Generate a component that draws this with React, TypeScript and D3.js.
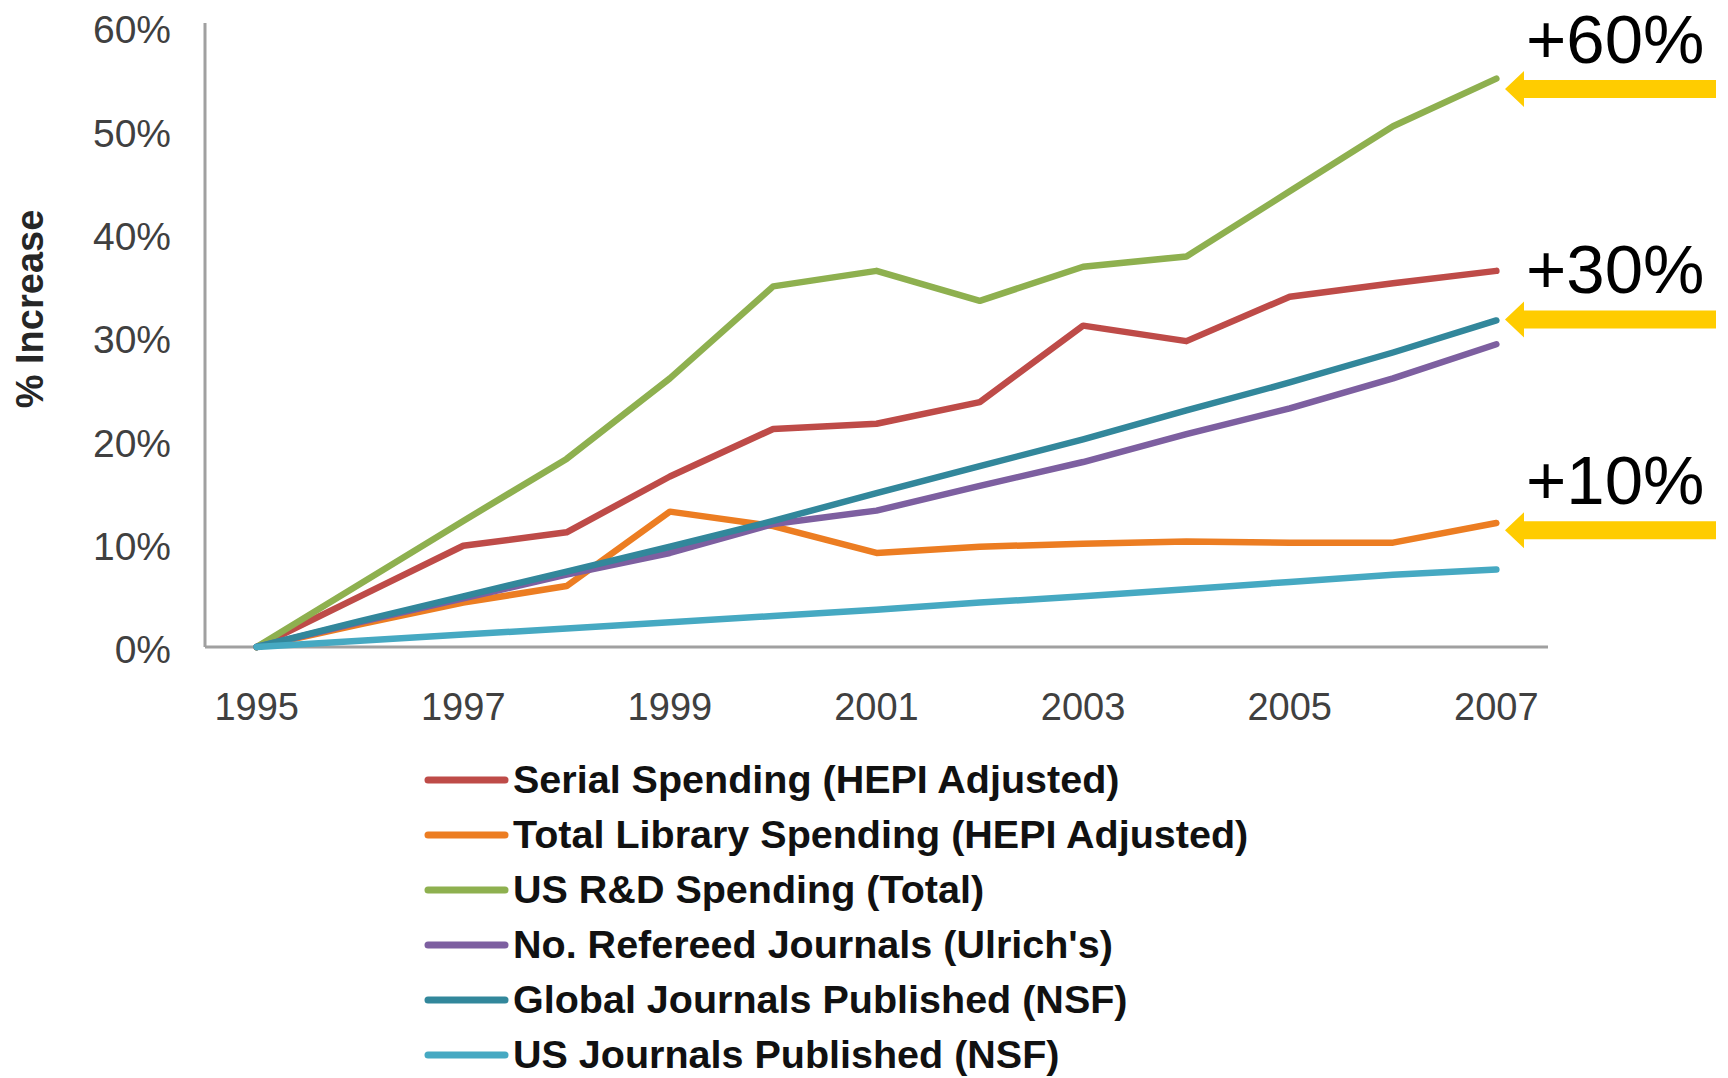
import * as d3 from 'd3'
import { FC, useMemo } from 'react'



const WIDTH = 1728
const HEIGHT = 1078
const PLOT = { left: 205, right: 1548, top: 27, bottom: 647 }
const FONT = '"Liberation Sans", Arial, Helvetica, sans-serif'



// Data (percent increase since 1995)
const YEARS = [1995, 1996, 1997, 1998, 1999, 2000, 2001, 2002, 2003, 2004, 2005, 2006, 2007]
const X_TICKS = [1995, 1997, 1999, 2001, 2003, 2005, 2007]
const Y_TICKS = [0, 10, 20, 30, 40, 50, 60]

const SERIAL_SPENDING = [0, 4.9, 9.8, 11.1, 16.5, 21.1, 21.6, 23.7, 31.1, 29.6, 33.9, 35.2, 36.4]
const TOTAL_LIBRARY = [0, 2.2, 4.3, 5.9, 13.1, 11.7, 9.1, 9.7, 10.0, 10.2, 10.1, 10.1, 12.0]
const US_RD = [0, 6.1, 12.2, 18.2, 26.0, 34.9, 36.4, 33.5, 36.8, 37.8, 44.1, 50.4, 55.0]
const REFEREED = [0, 2.4, 4.7, 7.0, 9.1, 11.9, 13.2, 15.6, 17.9, 20.6, 23.1, 26.0, 29.3]
const GLOBAL_JOURNALS = [0, 2.5, 4.9, 7.3, 9.7, 12.2, 14.9, 17.5, 20.1, 22.9, 25.6, 28.5, 31.6]
const US_JOURNALS = [0, 0.6, 1.2, 1.8, 2.4, 3.0, 3.6, 4.3, 4.9, 5.6, 6.3, 7.0, 7.5]

const SERIES_NAMES = [
  'Serial Spending (HEPI Adjusted)',
  'Total Library Spending (HEPI Adjusted)',
  'US R&D Spending (Total)',
  "No. Refereed Journals (Ulrich's)",
  'Global Journals Published (NSF)',
  'US Journals Published (NSF)',
]
const SERIES_VALUES = [SERIAL_SPENDING, TOTAL_LIBRARY, US_RD, REFEREED, GLOBAL_JOURNALS, US_JOURNALS]
const SERIES_COLORS = ['#BE4B48', '#EC7D22', '#8EB04F', '#7D5FA0', '#32879B', '#46A9C2']

// yellow call-outs on the right
const CALLOUT_LABELS = ['+60%', '+30%', '+10%']
const CALLOUT_VALUES = [54.0, 31.7, 11.3]



type Series = { name: string; color: string; values: number[] }



const Chart: FC<{ series: Series[] }> = ({ series }) => {

  const xScale = useMemo(() => {
    return d3.scalePoint<number>().domain(YEARS).range([PLOT.left, PLOT.right]).padding(0.5)
  }, [])

  const yScale = useMemo(() => {
    return d3.scaleLinear().domain([0, 60]).range([PLOT.bottom, PLOT.top])
  }, [])

  const line = d3
    .line<number>()
    .x((_, i) => xScale(YEARS[i]) as number)
    .y((d) => yScale(d))

  const paths = series.map((s) => (
    <path
      key={ s.name }
      d={ line(s.values) as string }
      fill='none'
      stroke={ s.color }
      strokeWidth={ 6.5 }
      strokeLinejoin='round'
      strokeLinecap='round'
    />
  ))

  const yTicks = Y_TICKS.map((t) => (
    <text
      key={ t }
      x={ 171 }
      y={ yScale(t) + 6 }
      textAnchor='end'
      dominantBaseline='middle'
      fontSize={ 39 }
      fill='#404040'
    >
      { t + '%' }
    </text>
  ))

  const xTicks = X_TICKS.map((t) => (
    <text
      key={ t }
      x={ xScale(t) }
      y={ 720 }
      textAnchor='middle'
      fontSize={ 38 }
      fill='#404040'
    >
      { t }
    </text>
  ))

  const legend = series.map((s, i) => {
    const y = 780 + i * 55
    return (
      <g key={ s.name }>
        <line x1={ 428 } x2={ 505 } y1={ y } y2={ y } stroke={ s.color } strokeWidth={ 7 } strokeLinecap='round' />
        <text x={ 513 } y={ y + 3 } dominantBaseline='middle' fontSize={ 39.5 } fontWeight='bold' fill='#111'>
          { s.name }
        </text>
      </g>
    )
  })

  const callouts = CALLOUT_LABELS.map((label, i) => {
    const y = yScale(CALLOUT_VALUES[i])
    const tip = 1505
    const arrow = `M${tip},${y} L${tip + 19},${y - 18} L${tip + 19},${y - 9} L1716,${y - 9} L1716,${y + 9} L${tip + 19},${y + 9} L${tip + 19},${y + 18} Z`
    return (
      <g key={ label }>
        <path d={ arrow } fill='#FFCC00' />
        <text x={ 1526 } y={ y - 26 } fontSize={ 69 } fill='#000'>
          { label }
        </text>
      </g>
    )
  })



  return (
    <svg
      width={ WIDTH }
      height={ HEIGHT }
      style={ { position: 'absolute', left: 0, top: 0, background: '#fff' } }
      fontFamily={ FONT }
    >
      <rect width={ WIDTH } height={ HEIGHT } fill='#fff' />
      <line x1={ PLOT.left } x2={ PLOT.left } y1={ 23 } y2={ PLOT.bottom } stroke='#A0A0A0' strokeWidth={ 3 } />
      <line x1={ PLOT.left } x2={ PLOT.right } y1={ PLOT.bottom } y2={ PLOT.bottom } stroke='#A0A0A0' strokeWidth={ 3 } />
      { yTicks }
      { xTicks }
      <text
        transform={ 'translate(33,309) rotate(-90)' }
        textAnchor='middle'
        dominantBaseline='middle'
        fontSize={ 38 }
        fontWeight='bold'
        fill='#262626'
      >
        % Increase
      </text>
      { paths }
      { legend }
      { callouts }
    </svg>
  )
}



const App: FC = () => {
  const series = SERIES_NAMES.map((name, i) => ({
    name,
    color: SERIES_COLORS[i],
    values: SERIES_VALUES[i],
  }))
  return <Chart series={ series } />
}


export default App
